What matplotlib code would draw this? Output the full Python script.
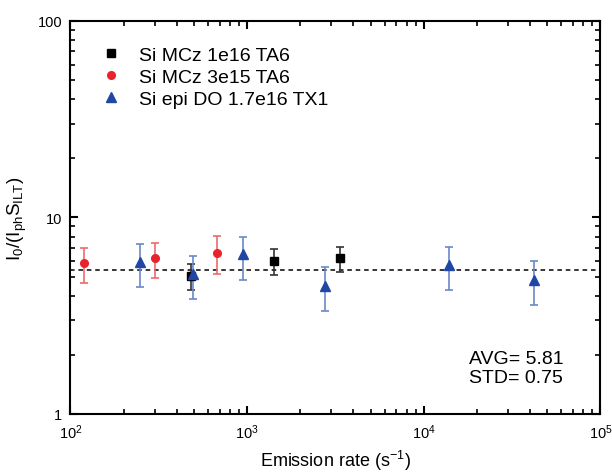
import numpy as np
import matplotlib
matplotlib.use('Agg')
import matplotlib.pyplot as plt
from matplotlib.ticker import LogLocator, NullFormatter, FixedLocator, FixedFormatter

plt.rcParams['font.family'] = ['Liberation Sans', 'DejaVu Sans']
plt.rcParams['mathtext.fontset'] = 'custom'
plt.rcParams['mathtext.rm'] = 'Liberation Sans'
plt.rcParams['mathtext.it'] = 'Liberation Sans'

# data
mcz1_x = [480, 1422, 3365]
mcz1_y = [5.05, 6.03, 6.19]
mcz1_lo = [4.28, 5.10, 5.25]
mcz1_hi = [5.80, 6.90, 7.10]

mcz3_x = [120, 303, 680]
mcz3_y = [5.86, 6.19, 6.59]
mcz3_lo = [4.63, 4.90, 5.13]
mcz3_hi = [7.03, 7.40, 8.04]

epi_x = [248, 495, 951, 2768, 13990, 42070]
epi_y = [5.90, 5.13, 6.49, 4.46, 5.73, 4.80]
epi_lo = [4.43, 3.85, 4.80, 3.35, 4.28, 3.58]
epi_hi = [7.32, 6.38, 7.98, 5.57, 7.10, 5.97]

avg_line = 5.4

fig = plt.figure(figsize=(6.12, 4.77), dpi=100)
ax = fig.add_axes([0.115, 0.130, 0.866, 0.824])


def draw(x, y, lo, hi, marker, mc, ec, ms, label):
    y = np.array(y)
    err = [y - np.array(lo), np.array(hi) - y]
    ax.errorbar(x, y, yerr=err, fmt='none', ecolor=ec, elinewidth=1.2,
                capsize=2.8, capthick=1.2, zorder=2)
    ax.plot(x, y, linestyle='none', marker=marker, color=mc, ms=ms,
            label=label, zorder=3)


ax.axhline(avg_line, color='black', linestyle=(0, (3, 2.5)), lw=1.1, zorder=1)
draw(mcz1_x, mcz1_y, mcz1_lo, mcz1_hi, 's', 'black', '#333333', 5.3, 'Si MCz 1e16 TA6')
draw(mcz3_x, mcz3_y, mcz3_lo, mcz3_hi, 'o', '#e8232b', '#ec6a6a', 5.5, 'Si MCz 3e15 TA6')
draw(epi_x, epi_y, epi_lo, epi_hi, '^', '#2147a6', '#6a87c8', 7, 'Si epi DO 1.7e16 TX1')

ax.set_xscale('log')
ax.set_yscale('log')
ax.set_xlim(100, 1e5)
ax.set_ylim(1, 100)

ax.yaxis.set_major_locator(FixedLocator([1, 10, 100]))
ax.yaxis.set_major_formatter(FixedFormatter(['1', '10', '100']))
ax.yaxis.set_minor_locator(LogLocator(base=10, subs=np.arange(2, 10)))
ax.yaxis.set_minor_formatter(NullFormatter())
ax.xaxis.set_minor_locator(LogLocator(base=10, subs=np.arange(2, 10)))
ax.xaxis.set_minor_formatter(NullFormatter())

ax.tick_params(which='both', direction='in', top=True, right=True, labelsize=10.5)
ax.tick_params(axis='x', which='major', pad=6)
ax.tick_params(axis='y', which='major', pad=6)
ax.tick_params(which='major', length=6, width=1.5)
ax.tick_params(which='minor', length=3.5, width=1.2)
for s in ax.spines.values():
    s.set_linewidth(1.5)

ax.set_xlabel('Emission rate (s$^{-1}$)', fontsize=13, labelpad=5)
ax.set_ylabel(r'I$_0$/(I$_{ph}$S$_{ILT}$)', fontsize=13.5, labelpad=6)

ax.legend(loc='upper left', frameon=False, fontsize=14, handletextpad=0.7,
          borderaxespad=0, labelspacing=0.22, handlelength=1.4,
          bbox_to_anchor=(0.037, 0.955))

ax.text(0.752, 0.07, 'AVG= 5.81\nSTD= 0.75', transform=ax.transAxes,
        fontsize=14, linespacing=1.2, va='bottom', ha='left')

fig.savefig('out.png', dpi=100)
